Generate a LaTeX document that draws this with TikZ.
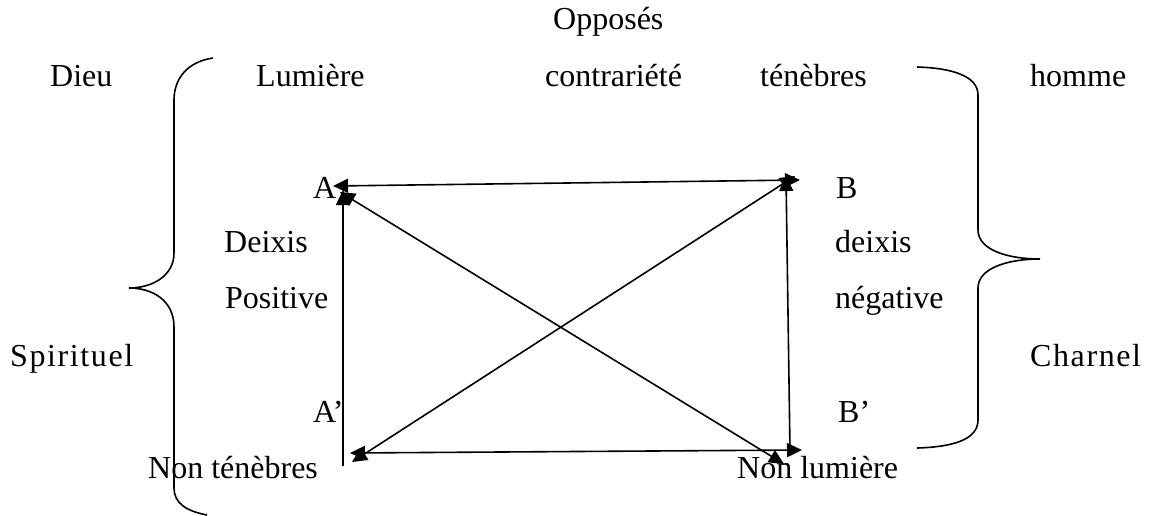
\documentclass[tikz,border=0pt]{standalone}
\usepackage{fontspec}
\setmainfont{Liberation Serif}
\usetikzlibrary{arrows.meta}
\begin{document}
\begin{tikzpicture}[x=1pt,y=-1pt,
  lbl/.style={anchor=base west,inner sep=0pt,font=\fontsize{32}{36}\selectfont},
  wide/.style={lbl,font=\fontsize{32}{36}\selectfont\addfontfeature{LetterSpace=5}},
  conn/.style={line width=1.6pt},
  tip/.style={-{Triangle[length=15pt,width=14pt]}},
  tips/.style={{Triangle[length=15pt,width=14pt]}-{Triangle[length=15pt,width=14pt]}},
  brace/.style={line width=1.6pt}]
\useasboundingbox (0,0) rectangle (1175,515);
% labels
\node[lbl] (opp) at (553,29) {Opposés};
\node[lbl] (dieu) at (50,86) {Dieu};
\node[lbl] (lum) at (256,86) {Lumière};
\node[lbl] (contr) at (545,86) {contrariété};
\node[lbl] (ten) at (760,86) {ténèbres};
\node[lbl] (hom) at (1030,86) {homme};
\node[lbl] (A) at (313,198) {A};
\node[lbl] (B) at (836,198) {B};
\node[lbl] (dp1) at (224,252) {Deixis};
\node[lbl] (dn1) at (835,252) {deixis};
\node[lbl] (dp2) at (225,308) {Positive};
\node[lbl] (dn2) at (835,308) {négative};
\node[wide] (spi) at (10,366) {Spirituel};
\node[wide] (cha) at (1030,366) {Charnel};
\node[lbl] (Ap) at (313,422) {A’};
\node[lbl] (Bp) at (838,422) {B’};
\node[lbl] (nt) at (148,478) {Non ténèbres};
\node[lbl] (nl) at (737,478) {Non lumière};
% corners
\coordinate (aH) at (333,186);
\coordinate (aV) at (343,190);
\coordinate (aD) at (340,192);
\coordinate (bH) at (800,180);
\coordinate (bV) at (786,176);
\coordinate (bD) at (795,176);
\coordinate (apH) at (350,453);
\coordinate (apV) at (343,466);
\coordinate (apD) at (352,462);
\coordinate (bpH) at (802,450);
\coordinate (bpV) at (790,450);
\coordinate (bpD) at (784,464);
% connectors
\draw[conn,tips] (aH) -- (bH);
\draw[conn,tips] (apH) -- (bpH);
\draw[conn,tip] (apV) -- (aV);
\draw[conn,tip] (bpV) -- (bV);
\draw[conn,tips] (aD) -- (bpD);
\draw[conn,tips] (apD) -- (bD);
% braces
\draw[brace] (213,58) .. controls (186,62) and (174,80) .. (174,100) -- (174,253)
  .. controls (174,276) and (152,288) .. (129,288)
  .. controls (152,288) and (174,300) .. (174,327) -- (174,488)
  .. controls (174,503) and (186,511) .. (207,515);
\draw[brace] (917,67) .. controls (952,68) and (978,76) .. (978,95) -- (978,230)
  .. controls (978,250) and (1008,259) .. (1040,259)
  .. controls (1008,259) and (978,268) .. (978,288) -- (978,420)
  .. controls (978,440) and (952,447) .. (917,448);
\end{tikzpicture}
\end{document}
